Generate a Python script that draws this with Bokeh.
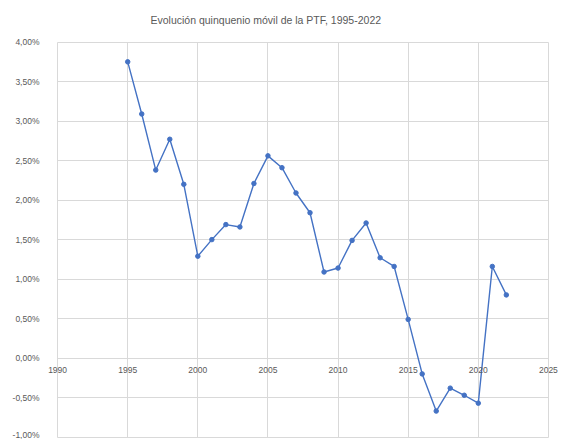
from bokeh.plotting import figure
from bokeh.models import FixedTicker, CustomJSTickFormatter, Range1d, ColumnDataSource
from bokeh.embed import file_html
from bokeh.resources import INLINE

years = [1995, 1996, 1997, 1998, 1999, 2000, 2001, 2002, 2003, 2004,
         2005, 2006, 2007, 2008, 2009, 2010, 2011, 2012, 2013, 2014,
         2015, 2016, 2017, 2018, 2019, 2020, 2021, 2022]
ptf = [3.75, 3.09, 2.38, 2.77, 2.20, 1.29, 1.50, 1.69, 1.66, 2.21,
       2.56, 2.41, 2.09, 1.84, 1.09, 1.14, 1.49, 1.71, 1.27, 1.16,
       0.49, -0.20, -0.67, -0.38, -0.47, -0.57, 1.16, 0.80]
x_ticks = [1990, 1995, 2000, 2005, 2010, 2015, 2020, 2025]
y_ticks = [-1.0, -0.5, 0.0, 0.5, 1.0, 1.5, 2.0, 2.5, 3.0, 3.5, 4.0]
title_text = "Evolución quinquenio móvil de la PTF, 1995-2022"

FONT = "Liberation Sans"
GRID = "#d9d9d9"
LINE = "#4472C4"
TXT = "#595959"

src = ColumnDataSource(dict(year=years, ptf=ptf))

# frame slightly wider than the data extent so edge tick labels are not clipped
x_lo, x_hi = x_ticks[0], x_ticks[-1]
y_lo, y_hi = y_ticks[0], y_ticks[-1]
p = figure(width=561, height=439, output_backend="svg", toolbar_location=None,
           x_range=Range1d(x_lo - 0.72, x_hi + 0.72),
           y_range=Range1d(y_lo - 0.03, y_hi + 0.02),
           min_border_left=47, min_border_right=3, min_border_top=40,
           min_border_bottom=0)

p.title.text = title_text
p.title.align = "left"
p.title.vertical_align = "top"
p.title.text_font = FONT
p.title.text_font_size = "10.5px"
p.title.text_font_style = "normal"
p.title.text_color = TXT
p.title.offset = 103
p.title.standoff = 25

p.line("year", "ptf", source=src, line_color=LINE, line_width=1.4)
p.scatter("year", "ptf", source=src, size=4.5, fill_color=LINE, line_color=LINE)

p.xaxis.ticker = FixedTicker(ticks=x_ticks)
p.xaxis.fixed_location = 0
p.yaxis.ticker = FixedTicker(ticks=y_ticks)
p.yaxis.formatter = CustomJSTickFormatter(
    code="return tick.toFixed(2).replace('.', ',') + '%';")
for ax in (p.xaxis, p.yaxis):
    ax.major_label_text_font = FONT
    ax.major_label_text_font_size = "8.5px"
    ax.major_label_text_color = TXT
    ax.major_tick_line_color = None
    ax.minor_tick_line_color = None
    ax.axis_line_color = None
p.yaxis.major_label_standoff = 2
p.xaxis.major_label_standoff = 3

p.xgrid.ticker = FixedTicker(ticks=x_ticks)
p.ygrid.ticker = FixedTicker(ticks=y_ticks)
p.xgrid.cross_bounds = (y_lo, y_hi)
p.ygrid.cross_bounds = (x_lo, x_hi)
p.grid.grid_line_color = GRID
p.outline_line_color = None
p.background_fill_color = "white"
p.border_fill_color = "white"

open("out.html", "w").write(file_html(p, INLINE))
